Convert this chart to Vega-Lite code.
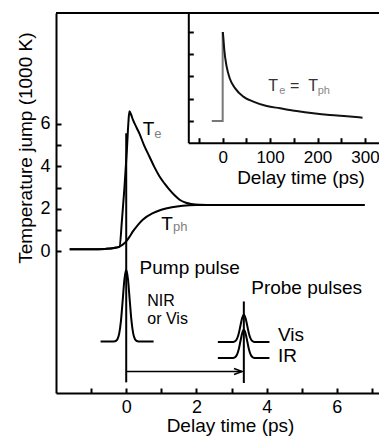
{
  "$schema": "https://vega.github.io/schema/vega-lite/v6.json",
  "width": 323,
  "height": 380,
  "autosize": {"type": "none"},
  "padding": {"left": 56, "top": 13, "right": 0, "bottom": 43},
  "background": "white",
  "config": {
    "font": "Liberation Sans",
    "view": {"stroke": null},
    "axis": {
      "grid": false,
      "domainColor": "black",
      "domainWidth": 2,
      "tickColor": "black",
      "tickWidth": 2,
      "labelColor": "black",
      "labelFont": "Liberation Sans",
      "labelFontSize": 18,
      "labelOverlap": false,
      "titleColor": "black",
      "titleFont": "Liberation Sans",
      "titleFontSize": 19,
      "titleFontWeight": "normal"
    }
  },
  "datasets": {
    "curves": [
      {"series": "Te", "t": -1.61, "v": 0.1},
      {"series": "Te", "t": -1.0, "v": 0.1},
      {"series": "Te", "t": -0.6, "v": 0.12},
      {"series": "Te", "t": -0.35, "v": 0.16},
      {"series": "Te", "t": -0.19, "v": 0.23},
      {"series": "Te", "t": -0.12, "v": 1.5},
      {"series": "Te", "t": -0.05, "v": 3.0},
      {"series": "Te", "t": 0.02, "v": 4.8},
      {"series": "Te", "t": 0.06, "v": 6.0},
      {"series": "Te", "t": 0.09, "v": 6.58},
      {"series": "Te", "t": 0.14, "v": 6.42},
      {"series": "Te", "t": 0.19, "v": 6.19},
      {"series": "Te", "t": 0.3, "v": 5.8},
      {"series": "Te", "t": 0.38, "v": 5.52},
      {"series": "Te", "t": 0.5, "v": 5.02},
      {"series": "Te", "t": 0.66, "v": 4.46},
      {"series": "Te", "t": 0.8, "v": 3.97},
      {"series": "Te", "t": 0.95, "v": 3.52},
      {"series": "Te", "t": 1.1, "v": 3.17},
      {"series": "Te", "t": 1.23, "v": 2.9},
      {"series": "Te", "t": 1.4, "v": 2.6},
      {"series": "Te", "t": 1.52, "v": 2.43},
      {"series": "Te", "t": 1.7, "v": 2.29},
      {"series": "Te", "t": 1.85, "v": 2.23},
      {"series": "Te", "t": 2.1, "v": 2.19},
      {"series": "Te", "t": 2.5, "v": 2.18},
      {"series": "Te", "t": 6.79, "v": 2.18},
      {"series": "Tph", "t": -1.61, "v": 0.1},
      {"series": "Tph", "t": -1.0, "v": 0.1},
      {"series": "Tph", "t": -0.6, "v": 0.12},
      {"series": "Tph", "t": -0.35, "v": 0.16},
      {"series": "Tph", "t": -0.19, "v": 0.23},
      {"series": "Tph", "t": -0.1, "v": 0.32},
      {"series": "Tph", "t": 0.0, "v": 0.47},
      {"series": "Tph", "t": 0.1, "v": 0.7},
      {"series": "Tph", "t": 0.19, "v": 0.94},
      {"series": "Tph", "t": 0.33, "v": 1.24},
      {"series": "Tph", "t": 0.47, "v": 1.49},
      {"series": "Tph", "t": 0.76, "v": 1.8},
      {"series": "Tph", "t": 1.0, "v": 1.96},
      {"series": "Tph", "t": 1.3, "v": 2.08},
      {"series": "Tph", "t": 1.61, "v": 2.15},
      {"series": "Tph", "t": 2.0, "v": 2.18},
      {"series": "Tph", "t": 2.5, "v": 2.18},
      {"series": "Tph", "t": 6.79, "v": 2.18}
    ],
    "pulses": [
      {"pulse": "pump", "t": -0.73, "v": -4.23},
      {"pulse": "pump", "t": -0.35, "v": -4.226},
      {"pulse": "pump", "t": -0.3, "v": -4.207},
      {"pulse": "pump", "t": -0.25, "v": -4.125},
      {"pulse": "pump", "t": -0.2, "v": -3.863},
      {"pulse": "pump", "t": -0.15, "v": -3.261},
      {"pulse": "pump", "t": -0.1, "v": -2.292},
      {"pulse": "pump", "t": -0.05, "v": -1.295},
      {"pulse": "pump", "t": 0.0, "v": -0.86},
      {"pulse": "pump", "t": 0.05, "v": -1.295},
      {"pulse": "pump", "t": 0.1, "v": -2.292},
      {"pulse": "pump", "t": 0.15, "v": -3.261},
      {"pulse": "pump", "t": 0.2, "v": -3.863},
      {"pulse": "pump", "t": 0.25, "v": -4.125},
      {"pulse": "pump", "t": 0.3, "v": -4.207},
      {"pulse": "pump", "t": 0.35, "v": -4.226},
      {"pulse": "pump", "t": 0.78, "v": -4.23},
      {"pulse": "vis", "t": 2.61, "v": -4.26},
      {"pulse": "vis", "t": 3.0, "v": -4.259},
      {"pulse": "vis", "t": 3.05, "v": -4.251},
      {"pulse": "vis", "t": 3.1, "v": -4.22},
      {"pulse": "vis", "t": 3.15, "v": -4.119},
      {"pulse": "vis", "t": 3.2, "v": -3.889},
      {"pulse": "vis", "t": 3.25, "v": -3.518},
      {"pulse": "vis", "t": 3.3, "v": -3.136},
      {"pulse": "vis", "t": 3.35, "v": -2.97},
      {"pulse": "vis", "t": 3.4, "v": -3.136},
      {"pulse": "vis", "t": 3.45, "v": -3.518},
      {"pulse": "vis", "t": 3.5, "v": -3.889},
      {"pulse": "vis", "t": 3.55, "v": -4.119},
      {"pulse": "vis", "t": 3.6, "v": -4.22},
      {"pulse": "vis", "t": 3.65, "v": -4.251},
      {"pulse": "vis", "t": 3.7, "v": -4.259},
      {"pulse": "vis", "t": 4.08, "v": -4.26},
      {"pulse": "ir", "t": 2.61, "v": -5.01},
      {"pulse": "ir", "t": 3.0, "v": -5.009},
      {"pulse": "ir", "t": 3.05, "v": -5.001},
      {"pulse": "ir", "t": 3.1, "v": -4.968},
      {"pulse": "ir", "t": 3.15, "v": -4.865},
      {"pulse": "ir", "t": 3.2, "v": -4.628},
      {"pulse": "ir", "t": 3.25, "v": -4.245},
      {"pulse": "ir", "t": 3.3, "v": -3.852},
      {"pulse": "ir", "t": 3.35, "v": -3.68},
      {"pulse": "ir", "t": 3.4, "v": -3.852},
      {"pulse": "ir", "t": 3.45, "v": -4.245},
      {"pulse": "ir", "t": 3.5, "v": -4.628},
      {"pulse": "ir", "t": 3.55, "v": -4.865},
      {"pulse": "ir", "t": 3.6, "v": -4.968},
      {"pulse": "ir", "t": 3.65, "v": -5.001},
      {"pulse": "ir", "t": 3.7, "v": -5.009},
      {"pulse": "ir", "t": 4.08, "v": -5.01}
    ],
    "vrules": [
      {"t": 0.0, "v": -6.15, "v2": 5.55},
      {"t": 3.35, "v": -6.18, "v2": -2.35}
    ],
    "frame": [{"v": 11.2}],
    "arrow": [
      {"part": "shaft", "i": 0, "t": 0.0, "v": -5.64},
      {"part": "shaft", "i": 1, "t": 3.3, "v": -5.64},
      {"part": "head", "i": 0, "t": 3.07, "v": -5.5},
      {"part": "head", "i": 1, "t": 3.3, "v": -5.64},
      {"part": "head", "i": 2, "t": 3.07, "v": -5.78}
    ],
    "labels_main": [
      {"t": 0.473, "v": 5.48, "s": "T"},
      {"t": 1.0, "v": 1.02, "s": "T"},
      {"t": 0.38, "v": -1.05, "s": "Pump pulse"},
      {"t": 3.56, "v": -2.0, "s": "Probe pulses"},
      {"t": 4.32, "v": -4.23, "s": "Vis"},
      {"t": 4.32, "v": -5.2, "s": "IR"}
    ],
    "labels_pump": [
      {"t": 0.6, "v": -2.58, "s": "NIR"},
      {"t": 0.6, "v": -3.43, "s": "or Vis"}
    ],
    "subs_main": [
      {"t": 0.8, "v": 5.33, "s": "e"},
      {"t": 1.33, "v": 0.95, "s": "ph"}
    ],
    "inset_rise": [
      {"i": 0, "t": -23, "v": 0},
      {"i": 1, "t": 0, "v": 0},
      {"i": 2, "t": 0, "v": 3.98}
    ],
    "inset_decay": [
      {"i": 0, "t": 0.3, "v": 3.98},
      {"i": 1, "t": 1.5, "v": 3.7},
      {"i": 2, "t": 3.4, "v": 3.18},
      {"i": 3, "t": 8.4, "v": 2.43},
      {"i": 4, "t": 15.4, "v": 1.88},
      {"i": 5, "t": 26, "v": 1.47},
      {"i": 6, "t": 43.5, "v": 1.09},
      {"i": 7, "t": 64.6, "v": 0.87},
      {"i": 8, "t": 92.8, "v": 0.67},
      {"i": 9, "t": 121, "v": 0.57},
      {"i": 10, "t": 156, "v": 0.45},
      {"i": 11, "t": 191, "v": 0.35},
      {"i": 12, "t": 226, "v": 0.27},
      {"i": 13, "t": 262, "v": 0.21},
      {"i": 14, "t": 295, "v": 0.15}
    ],
    "labels_inset": [
      {"t": 96.2, "v": 1.345, "s": "T"},
      {"t": 142, "v": 1.345, "s": "="},
      {"t": 180.6, "v": 1.345, "s": "T"}
    ],
    "subs_inset": [
      {"t": 119.4, "v": 1.2, "s": "e"},
      {"t": 200.4, "v": 1.2, "s": "ph"}
    ]
  },
  "layer": [
    {
      "layer": [
        {
          "data": {"name": "curves"},
          "mark": {"type": "line", "interpolate": "monotone", "strokeWidth": 2, "color": "black"},
          "encoding": {
            "x": {
              "field": "t", "type": "quantitative",
              "scale": {"domain": [-2, 7.2], "nice": false, "zero": false},
              "axis": {
                "values": [-1, 0, 1, 2, 3, 4, 5, 6, 7],
                "labelExpr": "datum.value % 2 === 0 ? datum.label : ''",
                "tickSize": -5,
                "labelPadding": 10,
                "title": "Delay time (ps)",
                "titleX": 174,
                "titleY": 23.5,
                "titleBaseline": "top",
                "titleAlign": "center"
              }
            },
            "y": {
              "field": "v", "type": "quantitative",
              "scale": {"domain": [-6.65, 11.2], "nice": false, "zero": false},
              "axis": {
                "values": [0, 1, 2, 3, 4, 5, 6],
                "labelExpr": "datum.value % 2 === 0 ? datum.label : ''",
                "tickSize": -5,
                "labelPadding": 11,
                "title": "Temperature jump (1000 K)",
                "titleX": -24.5,
                "titleY": 134.6,
                "titleAngle": 270,
                "titleBaseline": "alphabetic",
                "titleAlign": "center"
              }
            },
            "detail": {"field": "series"}
          }
        },
        {
          "data": {"name": "pulses"},
          "mark": {"type": "line", "interpolate": "monotone", "strokeWidth": 2, "color": "black"},
          "encoding": {
            "x": {"field": "t", "type": "quantitative"},
            "y": {"field": "v", "type": "quantitative"},
            "detail": {"field": "pulse"}
          }
        },
        {
          "data": {"name": "vrules"},
          "mark": {"type": "rule", "strokeWidth": 2, "color": "black"},
          "encoding": {
            "x": {"field": "t", "type": "quantitative"},
            "y": {"field": "v", "type": "quantitative"},
            "y2": {"field": "v2"}
          }
        },
        {
          "data": {"name": "frame"},
          "mark": {"type": "rule", "strokeWidth": 2, "color": "black"},
          "encoding": {
            "y": {"field": "v", "type": "quantitative"}
          }
        },
        {
          "data": {"name": "arrow"},
          "mark": {"type": "line", "strokeWidth": 1.5, "color": "black"},
          "encoding": {
            "x": {"field": "t", "type": "quantitative"},
            "y": {"field": "v", "type": "quantitative"},
            "detail": {"field": "part"},
            "order": {"field": "i"}
          }
        },
        {
          "data": {"name": "labels_main"},
          "mark": {"type": "text", "align": "left", "baseline": "alphabetic", "fontSize": 19, "color": "black"},
          "encoding": {
            "x": {"field": "t", "type": "quantitative"},
            "y": {"field": "v", "type": "quantitative"},
            "text": {"field": "s"}
          }
        },
        {
          "data": {"name": "labels_pump"},
          "mark": {"type": "text", "align": "left", "baseline": "alphabetic", "fontSize": 16, "color": "black"},
          "encoding": {
            "x": {"field": "t", "type": "quantitative"},
            "y": {"field": "v", "type": "quantitative"},
            "text": {"field": "s"}
          }
        },
        {
          "data": {"name": "subs_main"},
          "mark": {"type": "text", "align": "left", "baseline": "alphabetic", "fontSize": 13, "color": "#808080"},
          "encoding": {
            "x": {"field": "t", "type": "quantitative"},
            "y": {"field": "v", "type": "quantitative"},
            "text": {"field": "s"}
          }
        }
      ]
    },
    {
      "layer": [
        {
          "data": {"name": "inset_rise"},
          "mark": {"type": "line", "strokeWidth": 2, "color": "#777777"},
          "encoding": {
            "x": {
              "field": "t", "type": "quantitative",
              "scale": {"domain": [-72.5, 329.7], "range": [132.3, 323], "nice": false, "zero": false},
              "axis": {
                "orient": "bottom",
                "offset": -250.3,
                "values": [-50, 0, 50, 100, 150, 200, 250, 300],
                "labelExpr": "datum.value % 100 === 0 ? datum.label : ''",
                "labelFontSize": 17,
                "tickSize": -5,
                "labelPadding": 12,
                "title": "Delay time (ps)",
                "titleX": 244.5,
                "titleY": 25.5,
                "titleBaseline": "top",
                "titleAlign": "center"
              }
            },
            "y": {
              "field": "v", "type": "quantitative",
              "scale": {"domain": [-0.97, 4.83], "range": [129.7, 0], "nice": false, "zero": false},
              "axis": {
                "orient": "left",
                "offset": -132.3,
                "values": [0, 1, 2, 3, 4],
                "labels": false,
                "tickSize": -5,
                "title": null
              }
            },
            "order": {"field": "i"}
          }
        },
        {
          "data": {"name": "inset_decay"},
          "mark": {"type": "line", "interpolate": "monotone", "strokeWidth": 2, "color": "#111111"},
          "encoding": {
            "x": {"field": "t", "type": "quantitative"},
            "y": {"field": "v", "type": "quantitative"},
            "order": {"field": "i"}
          }
        },
        {
          "data": {"name": "labels_inset"},
          "mark": {"type": "text", "align": "left", "baseline": "alphabetic", "fontSize": 16, "color": "#333333"},
          "encoding": {
            "x": {"field": "t", "type": "quantitative"},
            "y": {"field": "v", "type": "quantitative"},
            "text": {"field": "s"}
          }
        },
        {
          "data": {"name": "subs_inset"},
          "mark": {"type": "text", "align": "left", "baseline": "alphabetic", "fontSize": 11, "color": "#888888"},
          "encoding": {
            "x": {"field": "t", "type": "quantitative"},
            "y": {"field": "v", "type": "quantitative"},
            "text": {"field": "s"}
          }
        }
      ]
    }
  ],
  "resolve": {
    "scale": {"x": "independent", "y": "independent"},
    "axis": {"x": "independent", "y": "independent"}
  }
}
